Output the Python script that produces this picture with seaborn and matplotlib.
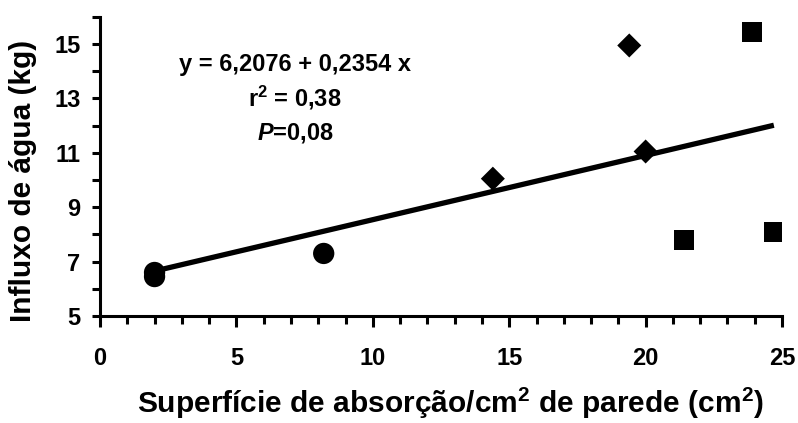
import numpy as np
import pandas as pd
import matplotlib
matplotlib.use("Agg")
import matplotlib.pyplot as plt
import seaborn as sns
from matplotlib.ticker import MultipleLocator, FixedLocator

# ---- data ----
circle_x = [2.0, 2.0, 8.2]
circle_y = [6.45, 6.6, 7.3]
diamond_x = [14.4, 19.4, 20.0]
diamond_y = [10.05, 14.95, 11.05]
square_x = [21.4, 23.9, 24.7]
square_y = [7.8, 15.45, 8.1]

eq_lines = ["y = 6,2076 + 0,2354 x", r"r$^{2}$ = 0,38", r"$P$=0,08"]
x_label = r"Superfície de absorção/cm$^{2}$ de parede (cm$^{2}$)"
y_label = "Influxo de água (kg)"
y_major = [5, 7, 9, 11, 13, 15]

df = pd.DataFrame({
    "x": circle_x + diamond_x + square_x,
    "y": circle_y + diamond_y + square_y,
    "g": ["c"] * 3 + ["d"] * 3 + ["s"] * 3,
})

sns.set_theme(style="ticks")
plt.rcParams["font.family"] = ["Liberation Sans", "DejaVu Sans"]
plt.rcParams["font.weight"] = "bold"
plt.rcParams["text.color"] = "black"
plt.rcParams["axes.labelcolor"] = "black"
plt.rcParams["mathtext.fontset"] = "custom"
plt.rcParams["mathtext.rm"] = "Liberation Sans:bold"
plt.rcParams["mathtext.it"] = "Liberation Sans:italic:bold"
plt.rcParams["mathtext.bf"] = "Liberation Sans:bold"

fig = plt.figure(figsize=(7.98, 4.23), dpi=100)
ax = fig.add_axes([0.1253, 0.253, 0.8547, 0.707])

sns.regplot(data=df, x="x", y="y", ax=ax, scatter=False, ci=None, truncate=True,
            line_kws=dict(color="black", lw=3.8, solid_capstyle="butt"))
sns.scatterplot(data=df, x="x", y="y", style="g", size="g", ax=ax,
                markers={"c": "o", "d": "D", "s": "s"},
                sizes={"c": 235, "d": 150, "s": 215},
                color="black", edgecolor="none", linewidth=0, legend=False, zorder=3)

ax.set_xlim(0, 25)
ax.set_ylim(5, 16)
ax.xaxis.set_major_locator(MultipleLocator(5))
ax.xaxis.set_minor_locator(MultipleLocator(1))
ax.yaxis.set_major_locator(FixedLocator(y_major))
ax.yaxis.set_minor_locator(FixedLocator([6, 8, 10, 12, 14, 16]))

for side in ["top", "right"]:
    ax.spines[side].set_visible(False)
for side in ["left", "bottom"]:
    ax.spines[side].set_linewidth(2.2)
    ax.spines[side].set_color("black")

ax.tick_params(axis="x", which="major", length=8, width=2.2, pad=14, labelsize=17,
               colors="black", labelcolor="black")
ax.tick_params(axis="x", which="minor", length=5.5, width=2.2, colors="black")
ax.tick_params(axis="y", which="both", length=6, width=2.2, pad=8, labelsize=17,
               colors="black", labelcolor="black")
plt.setp(ax.get_xticklabels() + ax.get_yticklabels(), fontweight="bold", fontsize=17)

ax.set_xlabel(x_label, fontsize=21.5, fontweight="bold", color="black")
ax.set_ylabel(y_label, fontsize=21.5, fontweight="bold", color="black")
ax.xaxis.set_label_coords(0.514, -0.235)
ax.yaxis.set_label_coords(-0.092, 0.45)

ys = [14.0, 12.7, 11.5]
for t, yy in zip(eq_lines, ys):
    ax.text(7.15, yy, t, ha="center", va="baseline", fontsize=17, fontweight="bold",
            color="black")

fig.savefig("out.png", dpi=100)
